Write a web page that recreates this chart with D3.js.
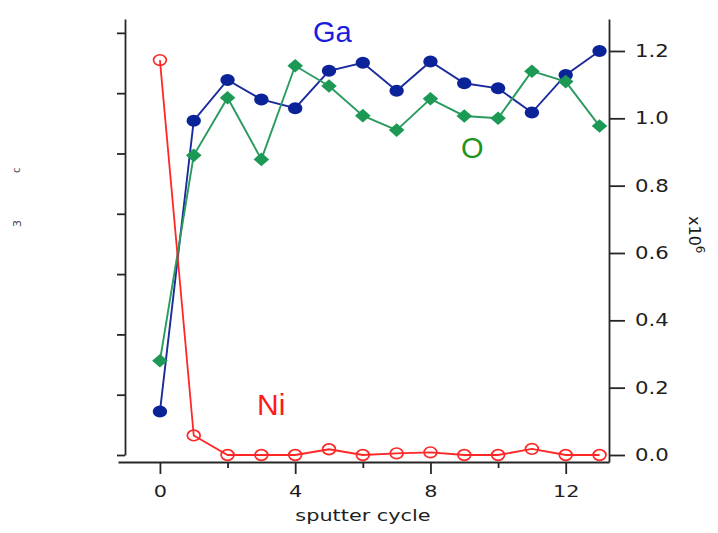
<!DOCTYPE html>
<html>
<head>
<meta charset="utf-8">
<script src="https://cdn.jsdelivr.net/npm/d3@7"></script>
<style>
  html, body { margin: 0; padding: 0; background: #fff; }
  svg { display: block; }
</style>
</head>
<body>
<svg id="chart" width="718" height="533"></svg>
<script>
// ---- data ----
const cycles = [0, 1, 2, 3, 4, 5, 6, 7, 8, 9, 10, 11, 12, 13];
const gaValues = [0.129, 0.993, 1.114, 1.056, 1.030, 1.141, 1.165, 1.082, 1.169, 1.104, 1.089, 1.017, 1.129, 1.200];
const oValues  = [0.280, 0.890, 1.061, 0.878, 1.156, 1.096, 1.008, 0.965, 1.058, 1.007, 1.000, 1.140, 1.109, 0.977];
const niValues = [1.173, 0.058, 0.000, 0.000, 0.000, 0.017, 0.000, 0.005, 0.008, 0.000, 0.000, 0.018, 0.000, 0.000];
const xMajorTicks = [0, 4, 8, 12];
const xMinorTicks = [2, 6, 10];
const yRightTicks = [0.0, 0.2, 0.4, 0.6, 0.8, 1.0, 1.2];
const yLeftTicks = [0, 1, 2, 3, 4, 5, 6, 7];
const seriesLabels = ["Ga", "O", "Ni"];
const xTitle = "sputter cycle";

// ---- layout ----
const svg = d3.select("#chart");
const x = d3.scaleLinear().domain([-1.24, 13.28]).range([118, 609]);
const y = d3.scaleLinear().domain([-0.0208, 1.295]).range([462, 19]);
const yLeft = d3.scaleLinear().domain([0, 7.23]).range([455, 19]);
const axisColor = "#262626";
const STRETCH = 1.3;

function stretchText(sel, factor) {
  sel.each(function () {
    const w = this.getComputedTextLength();
    if (w > 0) {
      d3.select(this).attr("textLength", w * factor).attr("lengthAdjust", "spacingAndGlyphs");
    }
  });
}

// left axis (labels cropped in the original)
const gLeft = svg.append("g").attr("transform", "translate(125,0)")
  .call(d3.axisLeft(yLeft).tickValues(yLeftTicks).tickSize(8).tickSizeOuter(0).tickFormat(() => ""));
gLeft.selectAll("path, line").attr("stroke", axisColor).attr("stroke-width", 1.8);

// faint fragments of the cropped left label
svg.append("text").attr("transform", "translate(20,173) rotate(-90)")
  .attr("font-family", "DejaVu Sans").attr("font-size", 10).attr("fill", "#444").text("c");
svg.append("text").attr("transform", "translate(21,227) rotate(-90)")
  .attr("font-family", "DejaVu Sans").attr("font-size", 11).attr("fill", "#444").text("3");

// bottom axis
const gMinor = svg.append("g").attr("transform", "translate(0,462)")
  .call(d3.axisBottom(x).tickValues(xMinorTicks).tickSize(6).tickSizeOuter(0).tickFormat(() => ""));
gMinor.select(".domain").remove();
gMinor.selectAll("line").attr("stroke", axisColor).attr("stroke-width", 1.8);

const gBottom = svg.append("g").attr("transform", "translate(0,462)")
  .call(d3.axisBottom(x).tickValues(xMajorTicks).tickSize(12).tickSizeOuter(0).tickPadding(12).tickFormat(d3.format("d")));
gBottom.selectAll("path, line").attr("stroke", axisColor).attr("stroke-width", 1.8);
gBottom.selectAll("text").attr("font-family", "DejaVu Sans").attr("font-size", 16).attr("fill", "#1e1e1e");
stretchText(gBottom.selectAll("text"), STRETCH);

// right axis
const gRight = svg.append("g").attr("transform", "translate(609,0)")
  .call(d3.axisRight(y).tickValues(yRightTicks).tickSize(16).tickSizeOuter(0).tickPadding(10).tickFormat(d3.format(".1f")));
gRight.selectAll("path, line").attr("stroke", axisColor).attr("stroke-width", 1.8);
gRight.selectAll("text").attr("font-family", "DejaVu Sans").attr("font-size", 17).attr("fill", "#1e1e1e");
stretchText(gRight.selectAll("text"), 1.25);

// x title
const xt = svg.append("text").attr("x", 363).attr("y", 521).attr("text-anchor", "middle")
  .attr("font-family", "DejaVu Sans").attr("font-size", 16).attr("fill", "#1e1e1e").text(xTitle);
stretchText(xt, STRETCH);

// right multiplier label x10^6
const mult = svg.append("text").attr("transform", "translate(689,216) rotate(90)")
  .attr("font-family", "DejaVu Sans").attr("font-size", 16).attr("fill", "#1e1e1e");
mult.append("tspan").text("x10");
mult.append("tspan").attr("dy", -7).attr("font-size", 12).text("6");

// ---- series ----
const line = vals => d3.line().x((d, i) => x(cycles[i])).y(d => y(d))(vals);

// Ga
svg.append("path").attr("d", line(gaValues)).attr("fill", "none")
  .attr("stroke", "#1b2a9c").attr("stroke-width", 1.9);
svg.append("g").selectAll("ellipse").data(gaValues).join("ellipse")
  .attr("cx", (d, i) => x(cycles[i])).attr("cy", d => y(d))
  .attr("rx", 7.2).attr("ry", 6).attr("fill", "#0b2399");

// O
svg.append("path").attr("d", line(oValues)).attr("fill", "none")
  .attr("stroke", "#2a9a5e").attr("stroke-width", 1.9);
const diamond = (cx, cy) => {
  const p = d3.path();
  p.moveTo(cx, cy - 6.8); p.lineTo(cx + 7.8, cy); p.lineTo(cx, cy + 6.8); p.lineTo(cx - 7.8, cy); p.closePath();
  return p.toString();
};
svg.append("g").selectAll("path").data(oValues).join("path")
  .attr("d", (d, i) => diamond(x(cycles[i]), y(d))).attr("fill", "#1c9a55");

// Ni
svg.append("path").attr("d", line(niValues)).attr("fill", "none")
  .attr("stroke", "#ff2626").attr("stroke-width", 1.8);
svg.append("g").selectAll("ellipse").data(niValues).join("ellipse")
  .attr("cx", (d, i) => x(cycles[i])).attr("cy", d => y(d))
  .attr("rx", 6.4).attr("ry", 5.3).attr("fill", "none")
  .attr("stroke", "#ff2626").attr("stroke-width", 1.7);

// series labels
svg.append("text").attr("x", 313).attr("y", 42).attr("font-family", "Liberation Sans")
  .attr("font-size", 29).attr("fill", "#1c1ce0").text(seriesLabels[0]);
svg.append("text").attr("x", 461).attr("y", 158).attr("font-family", "Liberation Sans")
  .attr("font-size", 29).attr("fill", "#1f951f").text(seriesLabels[1]);
svg.append("text").attr("x", 257).attr("y", 415).attr("font-family", "Liberation Sans")
  .attr("font-size", 30).attr("fill", "#ff1a1a").text(seriesLabels[2]);
</script>
</body>
</html>
